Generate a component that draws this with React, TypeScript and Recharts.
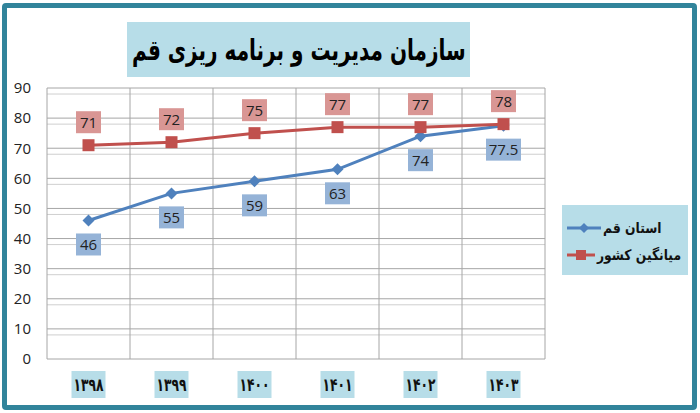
import React from 'react'
import { LineChart, Line, XAxis, YAxis, CartesianGrid, Legend, LabelList } from 'recharts'

const years = ['۱۳۹۸', '۱۳۹۹', '۱۴۰۰', '۱۴۰۱', '۱۴۰۲', '۱۴۰۳']
const qomValues = [46, 55, 59, 63, 74, 77.5]
const nationalValues = [71, 72, 75, 77, 77, 78]
const yTicks = [0, 10, 20, 30, 40, 50, 60, 70, 80, 90]
const minorTicks = [2, 4, 6, 8, 12, 14, 16, 18, 22, 24, 26, 28, 32, 34, 36, 38, 42, 44, 46, 48, 52, 54, 56, 58, 62, 64, 66, 68, 72, 74, 76, 78, 82, 84, 86, 88]
const columnEdges = [0, 1, 2, 3, 4, 5, 6]

const data = years.map((year, i) => ({
  x: i + 0.5,
  year,
  qom: qomValues[i],
  national: nationalValues[i],
}))

const NUM_FONT = '"Open Sans", "Noto Sans", sans-serif'
const FA_FONT = '"DejaVu Sans", sans-serif'

const YearTick = (props: any) => {
  const { x, y, payload } = props
  const label = years[Math.floor(payload.value)]
  return (
    <g>
      <rect x={x - 17} y={y + 4} width={34} height={27} fill="#b7dde8" />
      <text
        x={x}
        y={y + 24}
        textAnchor="middle"
        fontFamily={FA_FONT}
        fontWeight="bold"
        fontSize={18}
        fill="#111"
        textLength={30}
        lengthAdjust="spacingAndGlyphs"
      >
        {label}
      </text>
    </g>
  )
}

const makeLabel = (fill: string, dy: number) => (props: any) => {
  const { x, y, value } = props
  const text = String(value)
  const w = text.length > 2 ? 35 : 25
  const cy = y + dy
  return (
    <g>
      <rect x={x - w / 2} y={cy - 11} width={w} height={22} fill={fill} />
      <text x={x} y={cy + 5.5} textAnchor="middle" fontFamily={NUM_FONT} fontSize={15} fill="#222">
        {text}
      </text>
    </g>
  )
}

const Diamond = (props: any) => {
  const { cx, cy } = props
  return <path d={`M${cx},${cy - 6} L${cx + 6},${cy} L${cx},${cy + 6} L${cx - 6},${cy} Z`} fill="#4f81bd" />
}

const Square = (props: any) => {
  const { cx, cy } = props
  return <rect x={cx - 6} y={cy - 6} width={12} height={12} fill="#c0504d" />
}

const LegendBox = (props: any) => {
  const { payload } = props
  return (
    <div style={{ width: 126, height: 70, background: '#b7dde8', boxSizing: 'border-box', paddingTop: 9, paddingLeft: 5 }}>
      {(payload || []).map((entry: any, i: number) => (
        <div key={i} style={{ display: 'flex', alignItems: 'center', height: 27, whiteSpace: 'nowrap' }}>
          <svg width={i === 0 ? 34 : 28} height={14} style={{ flex: 'none' }}>
            <line x1={0} y1={7} x2={i === 0 ? 34 : 28} y2={7} stroke={entry.color} strokeWidth={3} />
            {i === 0 ? (
              <path d={`M17,2 L22,7 L17,12 L12,7 Z`} fill={entry.color} />
            ) : (
              <rect x={9} y={2} width={10} height={10} fill={entry.color} />
            )}
          </svg>
          <span
            style={{
              fontFamily: FA_FONT,
              fontWeight: 'bold',
              fontSize: 14.5,
              color: '#111',
              direction: 'rtl',
              marginLeft: 2,
              display: 'inline-block',
              transform: 'scaleX(0.85)',
              transformOrigin: 'left center',
            }}
          >
            {entry.value}
          </span>
        </div>
      ))}
    </div>
  )
}

export default function App() {
  return (
    <div style={{ position: 'absolute', left: 0, top: 0, width: 700, height: 413, background: '#fff', overflow: 'hidden' }}>
      <div
        style={{
          position: 'absolute',
          left: 2,
          top: 3,
          width: 695,
          height: 407,
          border: '5px solid #31849b',
          borderRadius: 4,
          boxSizing: 'border-box',
        }}
      />
      <div
        style={{
          position: 'absolute',
          left: 127,
          top: 22,
          width: 343,
          height: 55,
          background: '#b7dde8',
          display: 'flex',
          alignItems: 'center',
          justifyContent: 'center',
          overflow: 'hidden',
        }}
      >
        <span
          style={{
            display: 'inline-block',
            whiteSpace: 'nowrap',
            fontFamily: FA_FONT,
            fontWeight: 'bold',
            fontSize: 29,
            color: '#000',
            direction: 'rtl',
            transform: 'scaleX(0.69)',
          }}
        >
          سازمان مدیریت و برنامه ریزی قم
        </span>
      </div>
      <div style={{ position: 'absolute', left: 0, top: 0 }}>
        <LineChart width={700} height={413} data={data} margin={{ top: 88, right: 155, bottom: 0, left: 10 }}>
          <CartesianGrid horizontalValues={minorTicks} vertical={false} stroke="#cfcfcf" strokeWidth={1} />
          <CartesianGrid horizontalValues={yTicks} verticalValues={columnEdges} stroke="#a6a6a6" strokeWidth={1} />
          <XAxis
            type="number"
            dataKey="x"
            domain={[0, 6]}
            ticks={[0.5, 1.5, 2.5, 3.5, 4.5, 5.5]}
            axisLine={false}
            tickLine={false}
            tick={<YearTick />}
            height={54}
          />
          <YAxis
            domain={[0, 90]}
            ticks={yTicks}
            axisLine={false}
            tickLine={false}
            width={37}
            tick={{ fontFamily: NUM_FONT, fontSize: 15, fill: '#222' }}
            tickMargin={10}
          />
          <Legend
            layout="vertical"
            align="center"
            verticalAlign="middle"
            wrapperStyle={{ left: 562, top: 205, width: 126 }}
            content={<LegendBox />}
          />
          <Line
            type="linear"
            dataKey="qom"
            name="استان قم"
            stroke="#4f81bd"
            strokeWidth={3}
            dot={<Diamond />}
            activeDot={false}
            isAnimationActive={false}
          >
            <LabelList dataKey="qom" content={makeLabel('#95b3d7', 24)} />
          </Line>
          <Line
            type="linear"
            dataKey="national"
            name="میانگین کشور"
            stroke="#c0504d"
            strokeWidth={3}
            dot={<Square />}
            activeDot={false}
            isAnimationActive={false}
          >
            <LabelList dataKey="national" content={makeLabel('#d99694', -23)} />
          </Line>
        </LineChart>
      </div>
    </div>
  )
}
